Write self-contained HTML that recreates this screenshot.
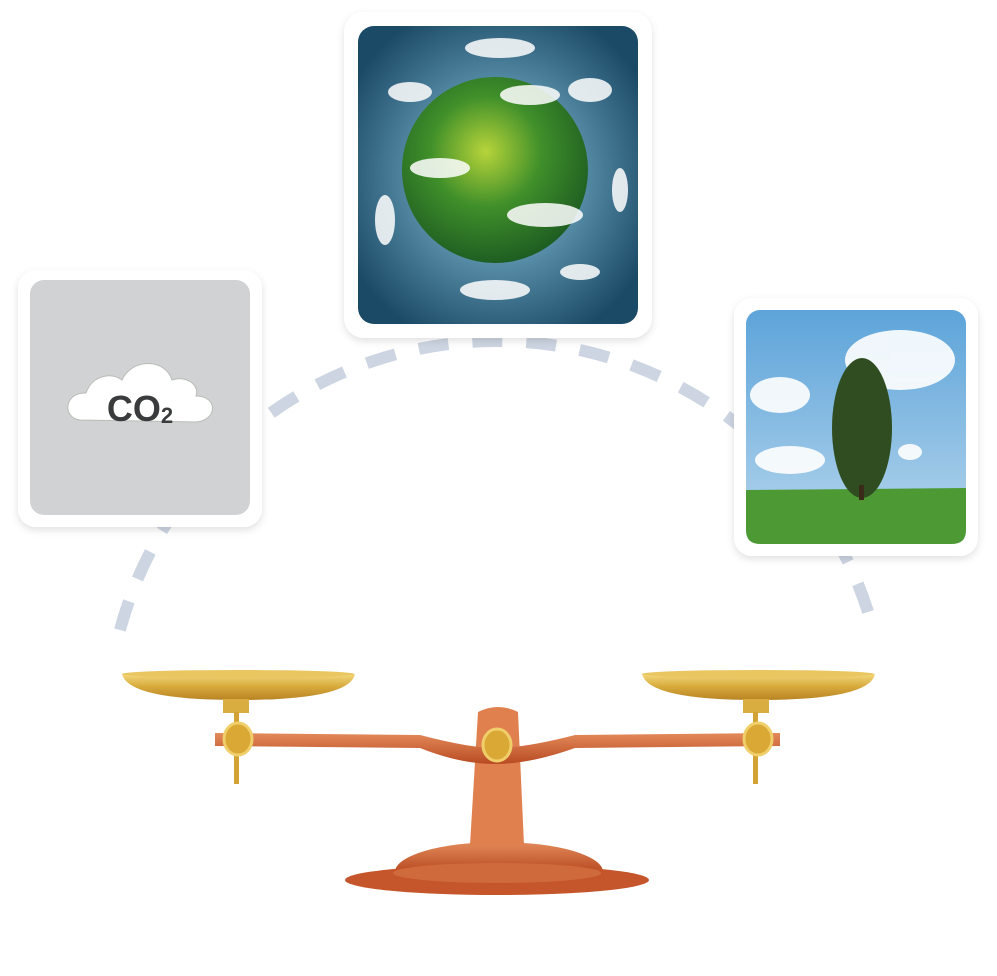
<!DOCTYPE html>
<html><head><meta charset="utf-8"><style>
html,body{margin:0;padding:0;background:#fff;width:997px;height:976px;overflow:hidden;font-family:"Liberation Sans",sans-serif}
</style></head><body>
<svg width="997" height="976" viewBox="0 0 997 976" xmlns="http://www.w3.org/2000/svg">
<defs>
<filter id="sh" x="-10%" y="-10%" width="120%" height="120%"><feDropShadow dx="0" dy="3" stdDeviation="4" flood-color="#000" flood-opacity="0.12"/></filter>
<radialGradient id="glb" cx="50%" cy="50%" r="60%"><stop offset="0" stop-color="#cfe6ee"/><stop offset="0.45" stop-color="#5d93ad"/><stop offset="1" stop-color="#1b4a66"/></radialGradient>
<radialGradient id="earth" cx="45%" cy="40%" r="60%"><stop offset="0" stop-color="#b7d43a"/><stop offset="0.5" stop-color="#3f8f2a"/><stop offset="1" stop-color="#1f5e22"/></radialGradient>
<linearGradient id="sky" x1="0" y1="0" x2="0" y2="1"><stop offset="0" stop-color="#5da4da"/><stop offset="1" stop-color="#b6d6ec"/></linearGradient>
<linearGradient id="gold" x1="0" y1="0" x2="0" y2="1"><stop offset="0" stop-color="#f3d77a"/><stop offset="0.5" stop-color="#d6a83a"/><stop offset="1" stop-color="#b98425"/></linearGradient>
<linearGradient id="cop" x1="0" y1="0" x2="0" y2="1"><stop offset="0" stop-color="#e38a5a"/><stop offset="1" stop-color="#b84a22"/></linearGradient>
</defs>
<!-- dashed arc -->
<path d="M120 630 A390 390 0 0 1 872 625" fill="none" stroke="#cdd5e2" stroke-width="12" stroke-dasharray="30 24"/>
<!-- CO2 card -->
<rect x="18" y="270" width="244" height="257" rx="18" fill="#fff" filter="url(#sh)"/>
<rect x="30" y="280" width="220" height="235" rx="14" fill="#d1d2d4"/>
<g fill="#fff" stroke="#b8bcb4" stroke-width="1">
<path d="M80 420 C62 418 64 392 86 393 C92 375 112 372 122 380 C132 358 165 358 172 380 C186 375 200 385 196 396 C218 396 218 420 196 422 Z"/>
</g>
<text x="140" y="421" text-anchor="middle" font-family="Liberation Sans,sans-serif" font-weight="bold" font-size="36" fill="#3a3b3c">CO<tspan font-size="22" dy="2">2</tspan></text>
<!-- Globe card -->
<rect x="344" y="12" width="308" height="326" rx="20" fill="#fff" filter="url(#sh)"/>
<rect x="358" y="26" width="280" height="298" rx="16" fill="url(#glb)"/>
<circle cx="495" cy="170" r="93" fill="url(#earth)"/>
<g fill="#fff" opacity="0.85">
<ellipse cx="500" cy="48" rx="35" ry="10"/><ellipse cx="410" cy="92" rx="22" ry="10"/><ellipse cx="590" cy="90" rx="22" ry="12"/>
<ellipse cx="620" cy="190" rx="8" ry="22"/><ellipse cx="385" cy="220" rx="10" ry="25"/><ellipse cx="495" cy="290" rx="35" ry="10"/>
<ellipse cx="580" cy="272" rx="20" ry="8"/><ellipse cx="440" cy="168" rx="30" ry="10"/><ellipse cx="545" cy="215" rx="38" ry="12"/><ellipse cx="530" cy="95" rx="30" ry="10"/>
</g>
<!-- Tree card -->
<rect x="734" y="298" width="244" height="258" rx="18" fill="#fff" filter="url(#sh)"/>
<rect x="746" y="310" width="220" height="234" rx="14" fill="url(#sky)"/>
<g fill="#fff" opacity="0.9"><ellipse cx="900" cy="360" rx="55" ry="30"/><ellipse cx="780" cy="395" rx="30" ry="18"/><ellipse cx="790" cy="460" rx="35" ry="14"/><ellipse cx="910" cy="452" rx="12" ry="8"/></g>
<path d="M746 490 L966 488 L966 530 Q966 544 952 544 L760 544 Q746 544 746 530 Z" fill="#4d9a35"/>
<ellipse cx="862" cy="428" rx="30" ry="70" fill="#2f4d20"/>
<rect x="859" y="485" width="5" height="15" fill="#3a2a1a"/>
<!-- Scale -->
<path d="M395 872 A104 30 0 0 1 603 872 Z" fill="url(#cop)"/>
<ellipse cx="497" cy="880" rx="152" ry="15" fill="#c5552b"/>
<ellipse cx="497" cy="873" rx="104" ry="10" fill="#cf6a3c"/>
<path d="M478 712 Q498 702 518 712 L524 845 L470 845 Z" fill="#e0804f"/>
<path d="M215 733 L420 735 Q470 748 495 748 Q525 748 575 735 L780 733 L780 746 L575 748 Q530 764 495 764 Q460 764 420 748 L215 746 Z" fill="url(#cop)"/>
<path d="M122 674 L355 674 Q350 700 238 700 Q128 700 122 674 Z" fill="url(#gold)"/>
<ellipse cx="238" cy="674" rx="116" ry="4" fill="#e9c660"/>
<path d="M642 674 L875 674 Q870 700 758 700 Q648 700 642 674 Z" fill="url(#gold)"/>
<ellipse cx="758" cy="674" rx="116" ry="4" fill="#e9c660"/>
<rect x="223" y="699" width="26" height="14" fill="#d9ad3f"/><rect x="234" y="712" width="5" height="72" fill="#d3a234"/>
<rect x="743" y="699" width="26" height="14" fill="#d9ad3f"/><rect x="753" y="712" width="5" height="72" fill="#d3a234"/>
<ellipse cx="238" cy="739" rx="14" ry="16" fill="#d9a835" stroke="#f0cf6a" stroke-width="3"/>
<ellipse cx="758" cy="739" rx="14" ry="16" fill="#d9a835" stroke="#f0cf6a" stroke-width="3"/>
<ellipse cx="497" cy="745" rx="14" ry="16" fill="#d9a835" stroke="#f0cf6a" stroke-width="3"/>
</svg>
</body></html>
